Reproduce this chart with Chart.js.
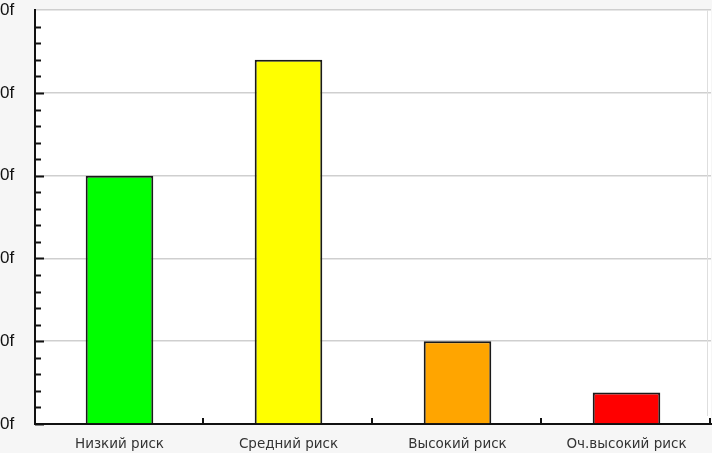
<!DOCTYPE html>
<html>
<head>
<meta charset="utf-8">
<script src="https://cdn.jsdelivr.net/npm/chart.js@4"></script>
<style>
  html, body { margin: 0; padding: 0; background: #f6f6f6; }
  #wrap { width: 712px; height: 453px; position: relative; }
</style>
</head>
<body>
<div id="wrap"><canvas id="chart"></canvas></div>
<script>
// risk categories and bar heights (in grid units)
const categories = ['Низкий риск', 'Средний риск', 'Высокий риск', 'Оч.высокий риск'];
const riskValues = [3.0, 4.4, 1.0, 0.38];
const barColors = ['#00ff00', '#ffff00', '#ffa500', '#ff0000'];
const yTickLabels = ['0f', '0f', '0f', '0f', '0f', '0f'];

// white plot area + tick marks drawn inside the axes
const plotDecor = {
  id: 'plotDecor',
  beforeDraw(chart) {
    const { ctx, chartArea: a } = chart;
    ctx.save();
    ctx.fillStyle = '#ffffff';
    ctx.fillRect(a.left, a.top, a.right - a.left, a.bottom - a.top);
    ctx.restore();
  },
  afterDraw(chart) {
    const { ctx, chartArea: a, scales: { x, y } } = chart;
    ctx.save();
    ctx.strokeStyle = '#111';
    ctx.lineWidth = 2;
    // y ticks: major + 4 minor
    for (let v = 0; v <= 5; v += 0.2) {
      const py = Math.round(y.getPixelForValue(v)) + 0.5;
      const major = Math.abs(v - Math.round(v)) < 1e-6;
      ctx.beginPath();
      ctx.moveTo(a.left, py);
      ctx.lineTo(a.left + (major ? 9 : 6), py);
      ctx.stroke();
    }
    // x ticks at category boundaries
    const half = (x.getPixelForValue(1) - x.getPixelForValue(0)) / 2;
    for (let i = 0; i < categories.length; i++) {
      const px = Math.round(x.getPixelForValue(i) + half) - 1;
      ctx.beginPath();
      ctx.moveTo(px, a.bottom);
      ctx.lineTo(px, a.bottom - 6);
      ctx.stroke();
    }
    // faint right frame
    ctx.strokeStyle = '#dedede';
    ctx.lineWidth = 1;
    ctx.beginPath();
    ctx.moveTo(a.right - 3.5, a.top);
    ctx.lineTo(a.right - 3.5, a.bottom - 8);
    ctx.stroke();
    ctx.restore();
  }
};

new Chart(document.getElementById('chart'), {
  type: 'bar',
  data: {
    labels: categories,
    datasets: [{
      data: riskValues,
      backgroundColor: barColors,
      borderColor: '#1a1a1a',
      borderWidth: 2,
      barPercentage: 0.4,
      categoryPercentage: 1.0
    }]
  },
  options: {
    responsive: true,
    maintainAspectRatio: false,
    animation: false,
    layout: { padding: { top: 0, right: 1, left: 0, bottom: 0 } },
    plugins: { legend: { display: false }, tooltip: { enabled: false } },
    scales: {
      x: {
        afterFit: s => { s.height = 29; },
        grid: { display: false, drawTicks: false },
        border: { display: true, color: '#111', width: 2 },
        ticks: {
          padding: 12,
          color: '#333',
          maxRotation: 0,
          font: { family: 'DejaVu Sans', size: 13.5 }
        }
      },
      y: {
        min: 0,
        max: 5,
        afterFit: s => { s.width = 35; },
        grid: { color: '#cfcfcf', lineWidth: 1.5, drawTicks: false },
        border: { display: true, color: '#111', width: 2 },
        ticks: {
          stepSize: 1,
          padding: 0,
          crossAlign: 'far',
          color: '#111',
          font: { family: 'Liberation Sans', size: 17 },
          callback: (v, i) => yTickLabels[i]
        }
      }
    }
  },
  plugins: [plotDecor]
});
</script>
</body>
</html>
